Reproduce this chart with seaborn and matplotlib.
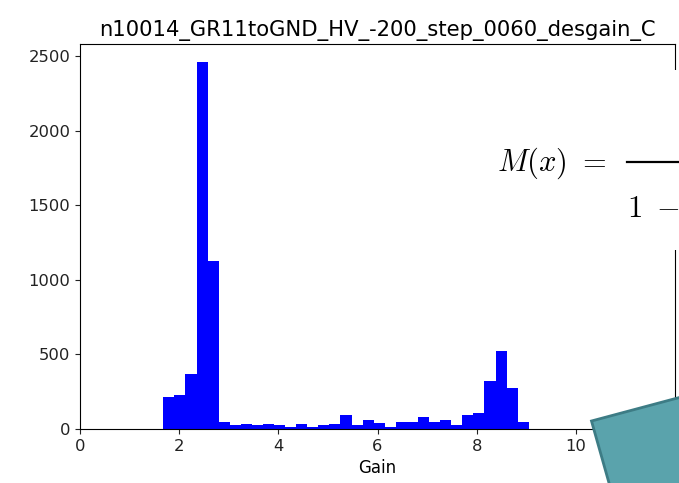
import numpy as np
import pandas as pd
import matplotlib
matplotlib.use("Agg")
import matplotlib.pyplot as plt
import seaborn as sns
from matplotlib.patches import Polygon, Rectangle
from matplotlib.lines import Line2D

# ==============================================================================
# DADOS
# ==============================================================================
titulo = "n10014_GR11toGND_HV_-200_step_0060_desgain_C"
ganho_min = 1.68
ganho_max = 9.05
contagens = [215, 225, 370, 2460, 1130, 50, 25, 35, 25, 35,
             25, 12, 35, 12, 25, 35, 95, 25, 60, 40,
             15, 48, 48, 82, 50, 60, 25, 95, 108, 320,
             520, 275, 50]
xticks = [0, 2, 4, 6, 8, 10]
yticks = [0, 500, 1000, 1500, 2000, 2500]

bordas = np.linspace(ganho_min, ganho_max, len(contagens) + 1)
base = pd.DataFrame({'gain': (bordas[:-1] + bordas[1:]) / 2, 'count': contagens})

# ==============================================================================
# FIGURA
# ==============================================================================
W, H = 679, 483
fig = plt.figure(figsize=(W / 100, H / 100), dpi=100)
ax = fig.add_axes([80 / W, 1 - 429 / H, (675 - 80) / W, (429 - 44) / H])

sns.histplot(data=base, x='gain', weights='count', bins=bordas.tolist(), color='blue',
             alpha=1, linewidth=0, ax=ax)
ax.set_xlim(0, 12)
ax.set_xticks(xticks)
ax.set_yticks(yticks)
ax.tick_params(labelsize=11.8, colors='#222222')
ax.set_ylabel('')
ax.set_xlabel('Gain', fontsize=12)
ax.set_title(titulo, fontsize=15.2)


def px(x, y):
    return (x / W, 1 - y / H)


# caixa branca atrás da fórmula (esconde parte do eixo direito)
fig.patches.append(Rectangle(px(600, 250), 79 / W, 180 / H, transform=fig.transFigure,
                             facecolor='white', edgecolor='none', zorder=5))

fig.text(*px(497, 163), r'$M(x)\ =$', fontsize=22, ha='left', va='center',
         zorder=6, math_fontfamily='cm')
fig.lines.append(Line2D([627 / W, 1.0], [1 - 162 / H] * 2, transform=fig.transFigure,
                        color='black', linewidth=1.6, zorder=6))
fig.text(*px(627, 208), r'$1\ -$', fontsize=22, ha='left', va='center',
         zorder=6, math_fontfamily='cm')

# polígono verde-azulado no canto inferior direito
fig.patches.append(Polygon([px(591.5, 421), px(700, 392), px(700, 490), px(611, 490)],
                           closed=True, transform=fig.transFigure,
                           facecolor='#5aa3ac', edgecolor='#3d7c85', linewidth=2, zorder=7))

plt.savefig('out.png', dpi=100)
